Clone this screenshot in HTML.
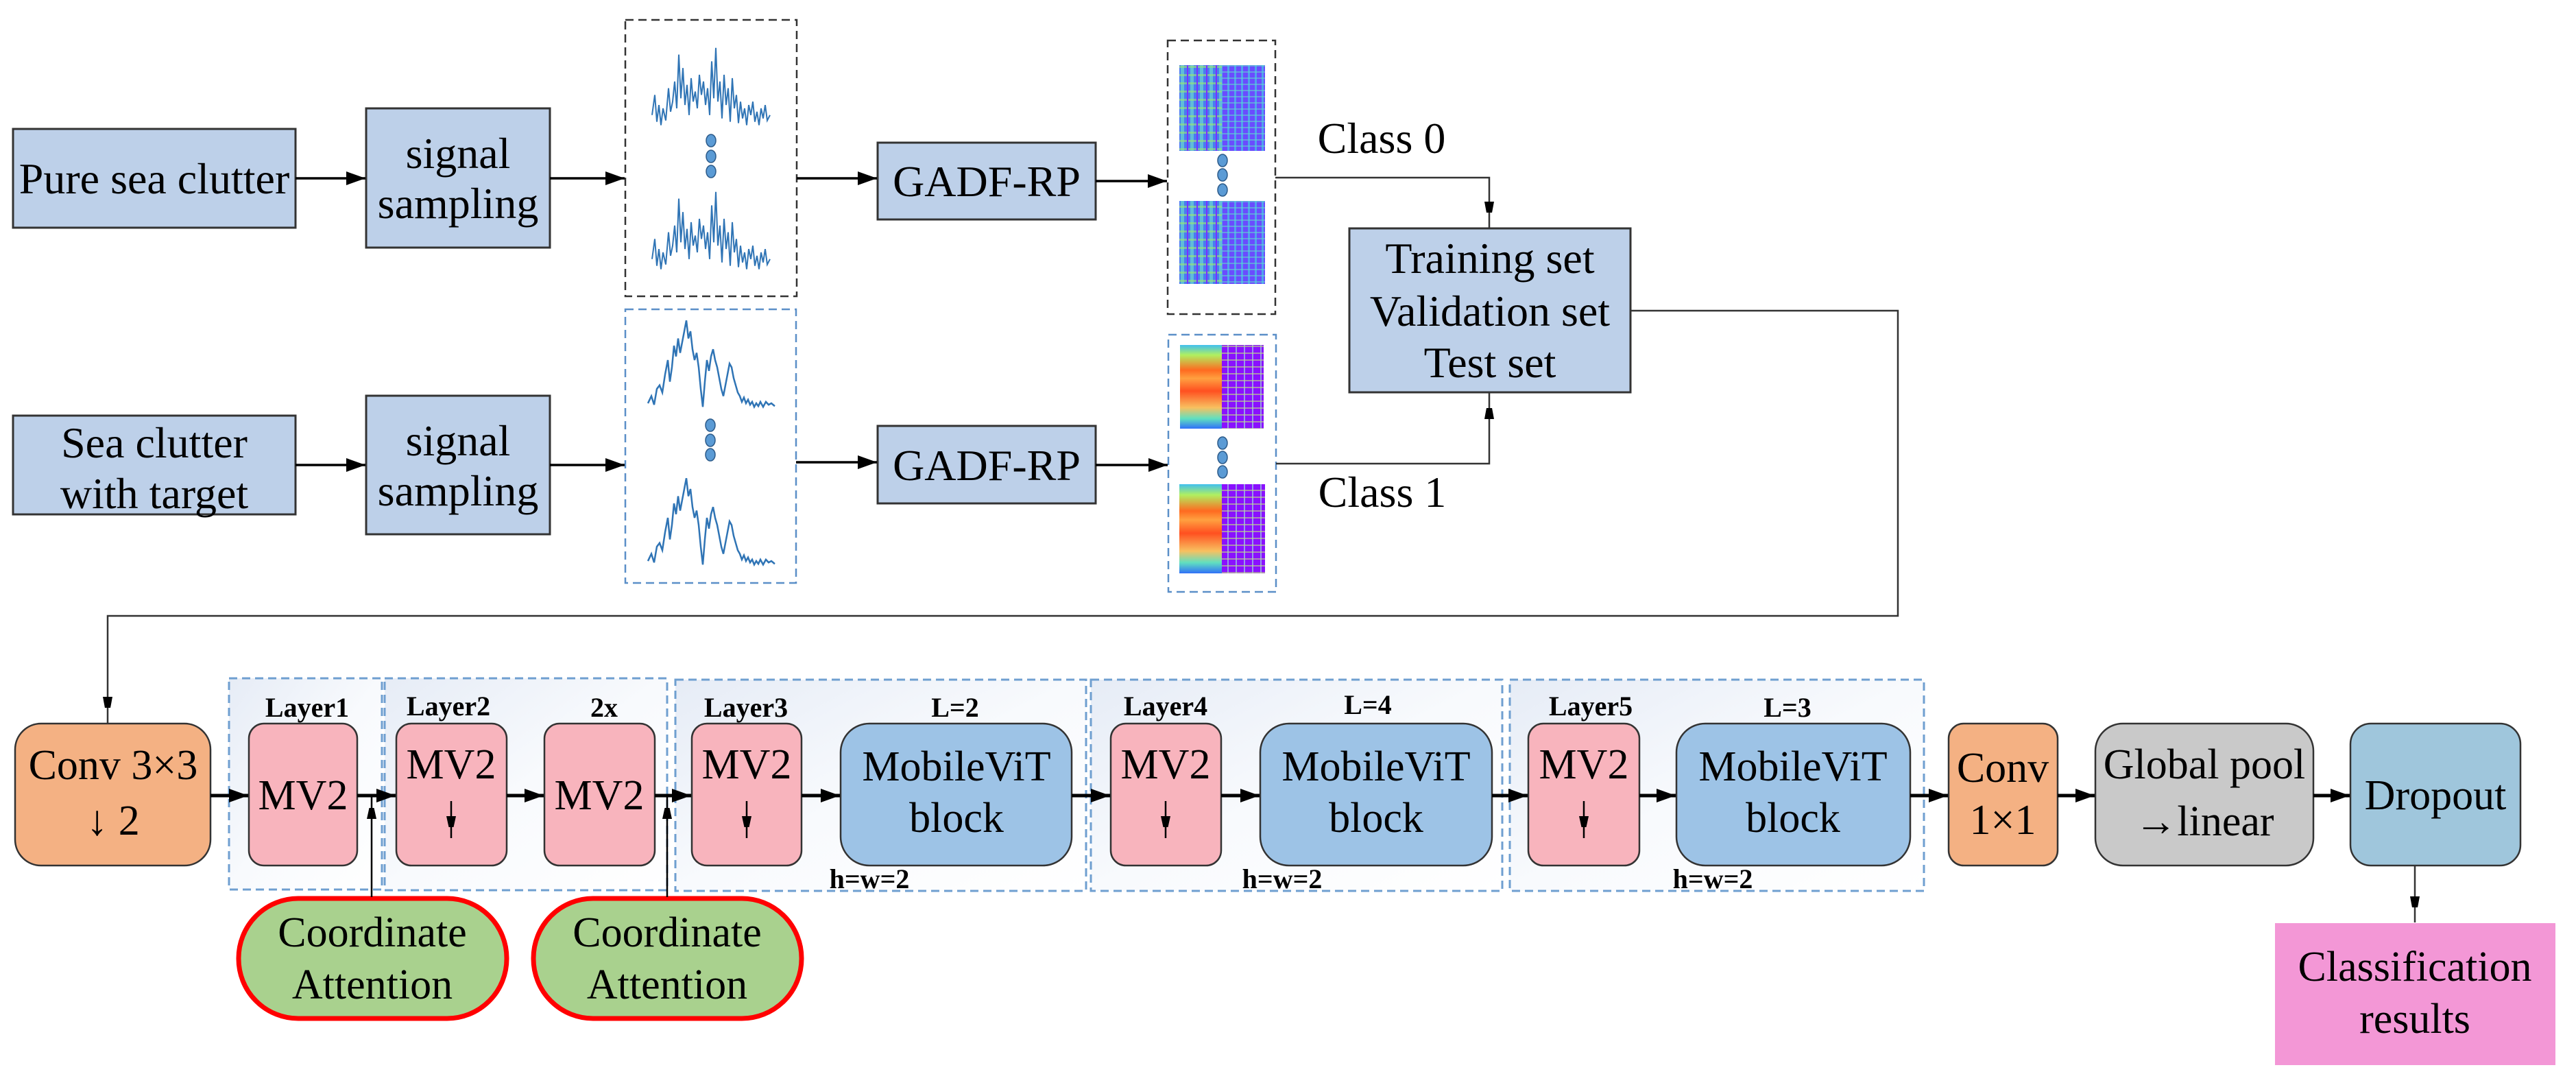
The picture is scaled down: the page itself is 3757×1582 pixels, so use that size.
<!DOCTYPE html>
<html><head><meta charset="utf-8"><style>html,body{margin:0;padding:0;background:#fff}svg{display:block}svg text{font-family:"Liberation Serif","DejaVu Serif",serif}</style></head>
<body>
<svg xmlns="http://www.w3.org/2000/svg" width="3757" height="1582" viewBox="0 0 3757 1582" style="font-family:'Liberation Serif',serif">
<defs>
<marker id="ah" markerUnits="userSpaceOnUse" markerWidth="30" markerHeight="24" refX="28" refY="12" orient="auto"><path d="M0,2 L28,12 L0,22 Z" fill="#000"/></marker>
<marker id="at" markerUnits="userSpaceOnUse" markerWidth="16" markerHeight="40" refX="38" refY="8" orient="auto"><path d="M0,1 L38,8 L0,15 Z" fill="#000"/></marker>
<marker id="ad" markerUnits="userSpaceOnUse" markerWidth="16" markerHeight="34" refX="32" refY="7" orient="auto"><path d="M0,0 L32,7 L0,14 Z" fill="#000"/></marker>
<linearGradient id="lg" x1="0" y1="0" x2="1" y2="1"><stop offset="0" stop-color="#e6ecf6"/><stop offset="0.5" stop-color="#f8fafd"/><stop offset="1" stop-color="#ffffff"/></linearGradient>
<pattern id="p0" width="14" height="12" patternUnits="userSpaceOnUse"><rect width="14" height="12" fill="#4a7cf0"/><rect x="0" y="0" width="5" height="12" fill="#6ad8d0" opacity="0.7"/><rect x="0" y="0" width="14" height="3" fill="#9be870" opacity="0.6"/><rect x="9" y="0" width="2" height="12" fill="#7a30ff"/></pattern>
<pattern id="p0b" width="10" height="9" patternUnits="userSpaceOnUse"><rect width="10" height="9" fill="#6a4cff"/><rect x="0" y="0" width="3" height="9" fill="#4ab8e8" opacity="0.8"/><rect x="0" y="5" width="10" height="2" fill="#60d0d0" opacity="0.6"/></pattern>
<linearGradient id="g1" x1="0" y1="0" x2="0" y2="1"><stop offset="0" stop-color="#40c0f0"/><stop offset="0.12" stop-color="#b0f060"/><stop offset="0.3" stop-color="#ff6a20"/><stop offset="0.4" stop-color="#ffa040"/><stop offset="0.55" stop-color="#ff5020"/><stop offset="0.75" stop-color="#f8c060"/><stop offset="0.88" stop-color="#60e0c0"/><stop offset="1" stop-color="#3070f8"/></linearGradient>
<pattern id="p1" width="12" height="10" patternUnits="userSpaceOnUse"><rect width="12" height="10" fill="#8a10ff"/><rect x="2" y="0" width="2" height="10" fill="#a0d0e0" opacity="0.7"/><rect x="0" y="4" width="12" height="2" fill="#c0e080" opacity="0.6"/></pattern>
<polyline id="wa" fill="none" stroke="#2f74b5" stroke-width="2" points="0,110 4,80 7,120 10,95 13,125 16,100 20,118 24,70 27,105 30,90 33,60 36,100 39,20 42,85 45,40 48,95 51,65 54,110 57,55 60,90 63,75 66,100 69,50 72,80 75,60 78,95 81,70 84,110 87,30 90,85 93,10 96,90 99,60 102,115 105,50 108,95 111,70 114,120 117,55 120,100 123,80 126,122 129,90 132,115 135,100 138,125 141,95 144,110 147,90 150,120 153,105 156,125 159,100 162,115 165,95 168,118 172,110"/>
<polyline id="wb" fill="none" stroke="#2f74b5" stroke-width="2.5" points="0,120 5,110 9,122 13,100 17,95 21,105 25,80 29,60 32,90 35,70 38,40 41,55 44,30 47,50 50,35 53,20 56,5 59,30 62,20 65,45 68,60 71,50 74,70 77,100 80,125 83,90 86,60 89,75 92,55 95,45 98,60 101,70 104,85 107,100 110,110 113,95 116,80 119,65 122,70 125,85 128,95 131,105 134,110 137,118 140,112 143,120 146,115 149,122 152,118 155,125 158,120 161,124 164,118 168,125 172,118 176,122 180,120 185,124"/>
</defs>

<g fill="#bdd0e9" stroke="#333" stroke-width="3">
<rect x="19" y="188" width="412" height="144"/>
<rect x="534" y="158" width="268" height="203"/>
<rect x="1280" y="208" width="318" height="112"/>
<rect x="19" y="606" width="412" height="144"/>
<rect x="534" y="577" width="268" height="202"/>
<rect x="1280" y="621" width="318" height="113"/>
<rect x="1968" y="333" width="410" height="239"/>
</g>
<g font-size="64" text-anchor="middle" fill="#000">
<text x="225" y="282">Pure sea clutter</text>
<text x="668" y="245">signal</text><text x="668" y="318">sampling</text>
<text x="1439" y="286">GADF-RP</text>
<text x="225" y="667">Sea clutter</text><text x="225" y="741">with target</text>
<text x="668" y="664">signal</text><text x="668" y="737">sampling</text>
<text x="1439" y="700">GADF-RP</text>
<text x="2173" y="398">Training set</text>
<text x="2173" y="475">Validation set</text>
<text x="2173" y="550">Test set</text>
<text x="2015" y="223">Class 0</text>
<text x="2016" y="739">Class 1</text>
</g>

<rect x="912" y="29" width="250" height="403" fill="none" stroke="#333" stroke-width="2.5" stroke-dasharray="12,7"/>
<rect x="912" y="451" width="249" height="399" fill="none" stroke="#5b8fc8" stroke-width="2.5" stroke-dasharray="12,7"/>
<rect x="1703" y="59" width="157" height="399" fill="none" stroke="#333" stroke-width="2.5" stroke-dasharray="12,7"/>
<rect x="1704" y="488" width="157" height="375" fill="none" stroke="#5b8fc8" stroke-width="2.5" stroke-dasharray="12,7"/>

<use href="#wa" transform="translate(951,60) scale(1,0.98)"/>
<use href="#wa" transform="translate(951,270) scale(1,0.98)"/>
<use href="#wb" transform="translate(945,462) scale(1,1.05)"/>
<use href="#wb" transform="translate(945,692) scale(1,1.05)"/>
<g fill="#5b9bd5" stroke="#2d5b8a" stroke-width="1.5">
<ellipse cx="1037" cy="205" rx="7" ry="9"/><ellipse cx="1037" cy="228" rx="7" ry="9"/><ellipse cx="1037" cy="250" rx="7" ry="9"/>
<ellipse cx="1036" cy="620" rx="7" ry="9"/><ellipse cx="1036" cy="642" rx="7" ry="9"/><ellipse cx="1036" cy="663" rx="7" ry="9"/>
<ellipse cx="1783" cy="234" rx="7" ry="9"/><ellipse cx="1783" cy="255" rx="7" ry="9"/><ellipse cx="1783" cy="277" rx="7" ry="9"/>
<ellipse cx="1783" cy="646" rx="7" ry="9"/><ellipse cx="1783" cy="667" rx="7" ry="9"/><ellipse cx="1783" cy="688" rx="7" ry="9"/>
</g>
<rect x="1720" y="95" width="62" height="125" fill="url(#p0)"/><rect x="1782" y="95" width="63" height="125" fill="url(#p0b)"/>
<rect x="1720" y="293" width="62" height="121" fill="url(#p0)"/><rect x="1782" y="293" width="63" height="121" fill="url(#p0b)"/>
<rect x="1721" y="503" width="61" height="122" fill="url(#g1)"/><rect x="1782" y="503" width="61" height="122" fill="url(#p1)"/>
<rect x="1720" y="706" width="62" height="130" fill="url(#g1)"/><rect x="1782" y="706" width="63" height="130" fill="url(#p1)"/>

<g stroke="#000" stroke-width="3.5" marker-end="url(#ah)">
<line x1="431" y1="260" x2="533" y2="260"/>
<line x1="802" y1="260" x2="911" y2="260"/>
<line x1="1162" y1="260" x2="1279" y2="260"/>
<line x1="1598" y1="264" x2="1702" y2="264"/>
<line x1="431" y1="678" x2="533" y2="678"/>
<line x1="802" y1="678" x2="911" y2="678"/>
<line x1="1161" y1="674" x2="1279" y2="674"/>
<line x1="1598" y1="678" x2="1703" y2="678"/>
</g>
<g stroke="#333" stroke-width="2.5" fill="none">
<polyline points="1860,259 2172,259 2172,332" marker-end="url(#at)"/>
<polyline points="1861,676 2172,676 2172,573" marker-end="url(#at)"/>
<polyline points="2378,453 2768,453 2768,898 157,898 157,1054" marker-end="url(#at)"/>
<line x1="3522" y1="1262" x2="3522" y2="1345" marker-end="url(#at)"/>
</g>

<g fill="url(#lg)" stroke="#6f9fd0" stroke-width="3" stroke-dasharray="12,7">
<rect x="334" y="989" width="223" height="308"/>
<rect x="561" y="989" width="412" height="309"/>
<rect x="985" y="991" width="599" height="308"/>
<rect x="1591" y="991" width="600" height="308"/>
<rect x="2202" y="991" width="604" height="308"/>
</g>

<g stroke="#333" stroke-width="2.5">
<rect x="22" y="1055" width="285" height="207" rx="38" fill="#f4b183"/>
<rect x="363" y="1055" width="158" height="207" rx="22" fill="#f8b4bd"/>
<rect x="578" y="1055" width="161" height="207" rx="22" fill="#f8b4bd"/>
<rect x="794" y="1055" width="161" height="207" rx="22" fill="#f8b4bd"/>
<rect x="1009" y="1055" width="160" height="207" rx="22" fill="#f8b4bd"/>
<rect x="1226" y="1055" width="337" height="207" rx="42" fill="#9dc3e6"/>
<rect x="1620" y="1055" width="161" height="207" rx="22" fill="#f8b4bd"/>
<rect x="1838" y="1055" width="338" height="207" rx="42" fill="#9dc3e6"/>
<rect x="2229" y="1055" width="162" height="207" rx="22" fill="#f8b4bd"/>
<rect x="2445" y="1055" width="341" height="207" rx="42" fill="#9dc3e6"/>
<rect x="2842" y="1055" width="159" height="207" rx="22" fill="#f4b183"/>
<rect x="3056" y="1055" width="318" height="207" rx="40" fill="#c9c9c9"/>
<rect x="3428" y="1055" width="248" height="207" rx="30" fill="#9fc6dc"/>
</g>
<rect x="3318" y="1346" width="409" height="207" fill="#f397d6"/>
<g fill="#a9d18e" stroke="#ff0000" stroke-width="7">
<rect x="348" y="1310" width="391" height="175" rx="87"/>
<rect x="778" y="1310" width="391" height="175" rx="87"/>
</g>

<g stroke="#000" stroke-width="5" marker-end="url(#ah)">
<line x1="307" y1="1160" x2="362" y2="1160"/>
<line x1="521" y1="1160" x2="577" y2="1160"/>
<line x1="739" y1="1160" x2="793" y2="1160"/>
<line x1="955" y1="1160" x2="1008" y2="1160"/>
<line x1="1169" y1="1160" x2="1225" y2="1160"/>
<line x1="1563" y1="1160" x2="1619" y2="1160"/>
<line x1="1781" y1="1160" x2="1837" y2="1160"/>
<line x1="2176" y1="1160" x2="2228" y2="1160"/>
<line x1="2391" y1="1160" x2="2444" y2="1160"/>
<line x1="2786" y1="1160" x2="2841" y2="1160"/>
<line x1="3001" y1="1160" x2="3055" y2="1160"/>
<line x1="3374" y1="1160" x2="3427" y2="1160"/>
</g>
<g stroke="#000" stroke-width="2.5" marker-end="url(#ad)">
<line x1="542" y1="1308" x2="542" y2="1162"/>
<line x1="973" y1="1308" x2="973" y2="1162"/>
<line x1="658" y1="1168" x2="658" y2="1222"/>
<line x1="1089" y1="1168" x2="1089" y2="1222"/>
<line x1="1700" y1="1168" x2="1700" y2="1222"/>
<line x1="2310" y1="1168" x2="2310" y2="1222"/>
</g>

<g font-size="62" text-anchor="middle" fill="#000">
<text x="165" y="1136">Conv 3×3</text>
<text x="165" y="1217">↓ 2</text>
<text x="442" y="1180">MV2</text>
<text x="658" y="1135">MV2</text>
<text x="874" y="1180">MV2</text>
<text x="1089" y="1135">MV2</text>
<text x="1395" y="1138">MobileViT</text><text x="1395" y="1213">block</text>
<text x="1700" y="1135">MV2</text>
<text x="2007" y="1138">MobileViT</text><text x="2007" y="1213">block</text>
<text x="2310" y="1135">MV2</text>
<text x="2615" y="1138">MobileViT</text><text x="2615" y="1213">block</text>
<text x="2921" y="1140">Conv</text><text x="2921" y="1216">1×1</text>
<text x="3215" y="1135">Global pool</text><text x="3215" y="1218">→linear</text>
<text x="3552" y="1180">Dropout</text>
<text x="3522" y="1430">Classification</text><text x="3522" y="1506">results</text>
<text x="543" y="1380">Coordinate</text><text x="543" y="1456">Attention</text>
<text x="973" y="1380">Coordinate</text><text x="973" y="1456">Attention</text>
</g>
<g font-size="40" font-weight="bold" text-anchor="middle" fill="#000">
<text x="448" y="1045">Layer1</text>
<text x="654" y="1043">Layer2</text>
<text x="881" y="1045">2x</text>
<text x="1088" y="1045">Layer3</text>
<text x="1393" y="1045">L=2</text>
<text x="1700" y="1043">Layer4</text>
<text x="1995" y="1041">L=4</text>
<text x="2320" y="1043">Layer5</text>
<text x="2607" y="1045">L=3</text>
<text x="1268" y="1295">h=w=2</text>
<text x="1870" y="1295">h=w=2</text>
<text x="2498" y="1295">h=w=2</text>
</g>
</svg>
</body></html>
